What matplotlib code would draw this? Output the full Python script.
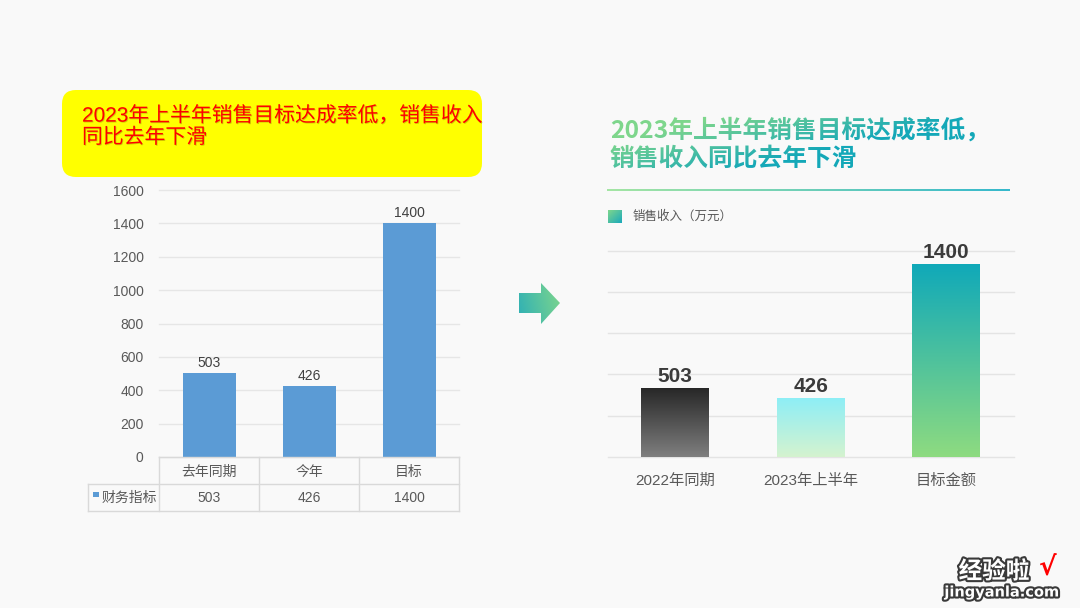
import numpy as np
import matplotlib
matplotlib.use("Agg")
import matplotlib.pyplot as plt
import matplotlib.patheffects as pe
from matplotlib.colors import LinearSegmentedColormap, to_rgb
from matplotlib.patches import FancyBboxPatch, Polygon, Rectangle
from matplotlib.collections import LineCollection

plt.rcParams['font.family'] = ['Liberation Sans', 'Noto Sans CJK SC', 'DejaVu Sans']

W, H = 1080, 608
BG = '#f9f9f9'

# left: original chart
old_title = '2023年上半年销售目标达成率低，销售收入\n同比去年下滑'
old_cats = ['去年同期', '今年', '目标']
old_vals = [503, 426, 1400]
old_series = '财务指标'
old_yticks = [0, 200, 400, 600, 800, 1000, 1200, 1400, 1600]

# right: redesigned chart
new_title = '2023年上半年销售目标达成率低，\n销售收入同比去年下滑'
new_cats = ['2022年同期', '2023年上半年', '目标金额']
new_vals = [503, 426, 1400]
new_series = '销售收入（万元）'
new_grid = [0, 300, 600, 900, 1200, 1500]
bar_top = ['#262626', '#8eeef6', '#10a9b9']
bar_bot = ['#7f7f7f', '#d5f3cf', '#8edb80']

GREEN = '#7ed68c'
TEAL = '#15a8b8'


def box(x0, y0, x1, y1):
    # pixel box (top-left origin) -> figure fraction rect
    return [x0 / W, 1 - y1 / H, (x1 - x0) / W, (y1 - y0) / H]


def dgrad(c1, c2):
    # recolour rendered text with a diagonal gradient, keep its alpha
    a, b = np.array(to_rgb(c1)), np.array(to_rgb(c2))

    def f(im, dpi):
        h, w = im.shape[:2]
        xf, yf = np.meshgrid(np.linspace(0, 1, w), np.linspace(0, 1, h))
        # image rows run top->bottom
        t = np.clip(1.5 * xf + 0.9 * yf - 0.45, 0, 1)
        out = im.copy()
        for k in range(3):
            out[:, :, k] = a[k] + (b[k] - a[k]) * t
        return out, 0, 0
    return f


fig = plt.figure(figsize=(W / 100, H / 100), dpi=100, facecolor=BG)

bg = fig.add_axes([0, 0, 1, 1], zorder=0)
bg.axis('off')

# ---- left side ----
bg.add_patch(FancyBboxPatch((62, 90), 420, 87, boxstyle='round,pad=0,rounding_size=14',
                            fc='#ffff00', ec='none'))
bg.text(82, 126.5, old_title, color='#ff0000', fontsize=15, va='center', linespacing=1.1,
        path_effects=[pe.withSimplePatchShadow(offset=(0.6, -0.6), shadow_rgbFace='#7a7a00', alpha=0.35)])

ax1 = fig.add_axes(box(159, 190, 459, 457), zorder=2)
ax1.set_facecolor('none')
x = np.arange(len(old_cats))
ax1.bar(x, old_vals, width=0.53, color='#5b9bd5', zorder=3)
for xi, v in zip(x, old_vals):
    ax1.annotate(str(v), (xi, v), xytext=(0, 4.5), textcoords='offset points',
                 ha='center', va='baseline', fontsize=10, color='#404040')
ax1.set_xlim(-0.5, len(old_cats) - 0.5)
ax1.set_ylim(0, old_yticks[-1])
ax1.set_yticks(old_yticks)
ax1.set_xticks([])
ax1.yaxis.grid(True, color='#e6e6e6', lw=1)
ax1.set_axisbelow(True)
for s in ax1.spines.values():
    s.set_visible(False)
ax1.tick_params(axis='y', length=0, pad=11, labelsize=10, labelcolor='#595959')
for g in ax1.get_ygridlines():
    g.set_clip_on(False)

# data table under the chart
tax = fig.add_axes(box(88, 457, 459, 511), zorder=2)
tax.axis('off')
n = len(old_cats)
left = -1.21
tax.set_xlim(left, n - 0.5)
tax.set_ylim(2, 0)
lc = '#d9d9d9'
tax.plot([-0.5, n - 0.5], [0, 0], color=lc, lw=1, clip_on=False)
tax.plot([left, n - 0.5], [1, 1], color=lc, lw=1, clip_on=False)
tax.plot([left, n - 0.5], [2, 2], color=lc, lw=1, clip_on=False)
for b in np.arange(n + 1) - 0.5:
    tax.plot([b, b], [0, 2], color=lc, lw=1, clip_on=False)
tax.plot([left, left], [1, 2], color=lc, lw=1, clip_on=False)
for i, (c, v) in enumerate(zip(old_cats, old_vals)):
    tax.text(i, 0.55, c, ha='center', va='center', fontsize=10, color='#595959')
    tax.text(i, 1.52, str(v), ha='center', va='center', fontsize=10, color='#595959')
tax.add_patch(Rectangle((left + 0.05, 1.28), 0.06, 0.2, fc='#5b9bd5', ec='none'))
tax.text(left + 0.14, 1.52, old_series, ha='left', va='center', fontsize=10, color='#595959')

# ---- arrow ----
arrow = Polygon([(519, 293), (541, 293), (541, 283), (560, 303), (541, 324), (541, 313), (519, 313)],
                closed=True, fc='none', ec='none')
bg.add_patch(arrow)
gx, gy = np.meshgrid(np.linspace(0, 1, 64), np.linspace(0, 1, 64))
cm_ar = LinearSegmentedColormap.from_list('ar', ['#2fb0b5', GREEN])
im = bg.imshow(np.clip(gx * 0.8 + (1 - gy) * 0.2, 0, 1), extent=(519, 560, 324, 283),
               cmap=cm_ar, aspect='auto', origin='upper')
im.set_clip_path(arrow)

# ---- right side ----
bg.text(610, 144, new_title, fontsize=17.8, fontweight='bold', va='center',
        family=['Noto Sans CJK SC', 'DejaVu Sans'],
        linespacing=1.2, color='k', agg_filter=dgrad(GREEN, TEAL))

xs = np.linspace(607, 1010, 200)
segs = [[(xs[i], 190), (xs[i + 1], 190)] for i in range(len(xs) - 1)]
cm_line = LinearSegmentedColormap.from_list('ln', ['#9be39b', '#22b2c8'])
bg.add_collection(LineCollection(segs, colors=cm_line(np.linspace(0, 1, len(segs))), lw=1.3))

sq = Rectangle((608, 210), 14, 13, fc='none', ec='none')
bg.add_patch(sq)
cm_sq = LinearSegmentedColormap.from_list('sq', [GREEN, '#1aa9bb'])
im = bg.imshow(np.clip((gx + gy) / 2, 0, 1), extent=(608, 622, 223, 210),
               cmap=cm_sq, aspect='auto', origin='upper')
im.set_clip_path(sq)
bg.text(633, 217, new_series, fontsize=9, color='#595959', va='center')

ax2 = fig.add_axes(box(607.5, 250.5, 1014, 457), zorder=2)
ax2.set_facecolor('none')
x2 = np.arange(len(new_cats))
grad = np.linspace(0, 1, 256)[:, None]
for i, v in enumerate(new_vals):
    bar = ax2.bar(i, v, width=0.5, color='none', zorder=3)[0]
    cm = LinearSegmentedColormap.from_list('b%d' % i, [bar_bot[i], bar_top[i]])
    im = ax2.imshow(grad, extent=(i - 0.25, i + 0.25, 0, v), origin='lower',
                    cmap=cm, aspect='auto', zorder=3)
    im.set_clip_path(bar)
    ax2.annotate(str(v), (i, v), xytext=(0, 4.5), textcoords='offset points',
                 ha='center', va='baseline', fontsize=15, fontweight='bold',
                 color='#3b3b3b')
ax2.set_xlim(-0.5, len(new_cats) - 0.5)
ax2.set_ylim(0, new_grid[-1])
ax2.set_yticks(new_grid)
ax2.set_yticklabels([])
ax2.set_xticks(x2)
ax2.set_xticklabels(new_cats)
ax2.yaxis.grid(True, color='#e4e4e4', lw=1)
ax2.set_axisbelow(True)
for g in ax2.get_ygridlines():
    g.set_clip_on(False)
for s in ax2.spines.values():
    s.set_visible(False)
ax2.tick_params(length=0)
ax2.tick_params(axis='x', pad=12, labelsize=11, labelcolor='#595959')

# ---- watermark ----
stroke = [pe.withStroke(linewidth=3, foreground='#3a3a3a')]
bg.text(994, 572, '经验啦', fontsize=17, fontweight='bold', color='white',
        ha='center', va='center', path_effects=stroke)
bg.text(1047, 569, '√', fontsize=19, fontweight='bold', color='#ff0000',
        ha='center', va='center', family='DejaVu Sans')
bg.text(1002, 592, 'jingyanla.com', fontsize=10.5, fontweight='bold', color='white',
        ha='center', va='center', family='DejaVu Sans', path_effects=stroke)

bg.set_xlim(0, W)
bg.set_ylim(H, 0)

fig.savefig('out.png', dpi=100, facecolor=BG)
